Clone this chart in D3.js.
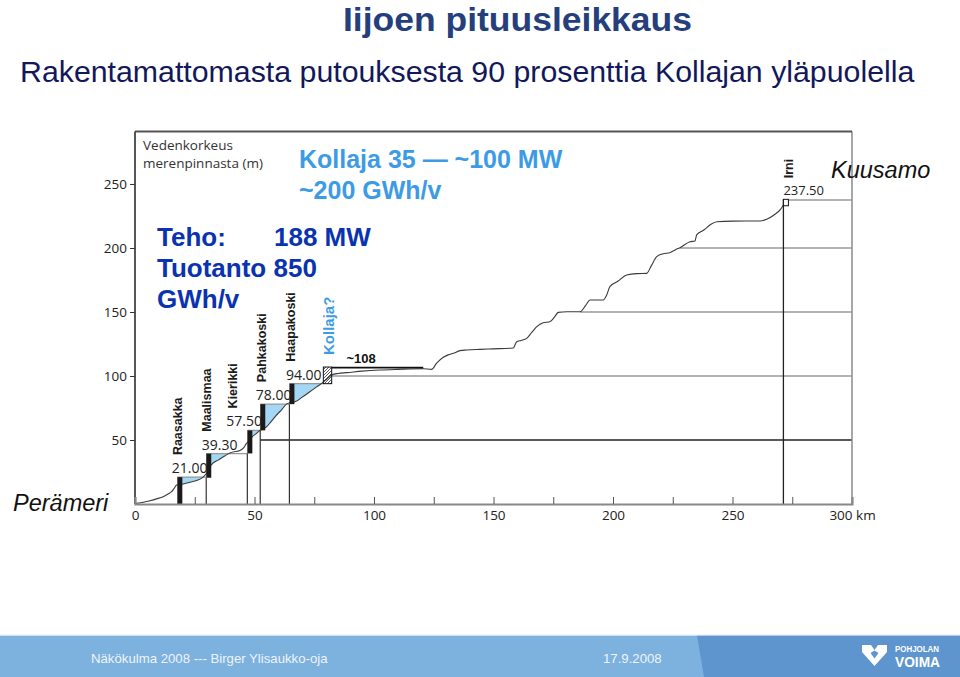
<!DOCTYPE html>
<html>
<head>
<meta charset="utf-8">
<script src="https://cdn.jsdelivr.net/npm/d3@7"></script>
<style>
  body { margin: 0; background: #fff; }
  svg { display: block; }
</style>
</head>
<body>
<div class="container"></div>
<script>
// DATA
// natural river profile: distance from the sea (km) and water level (m)
const profileKm = [0, 3, 6.3, 9, 11.8, 14, 15.3, 16.5, 17.4, 19.5, 23, 26, 27.9, 29, 30.3, 31.9, 35, 37.5, 39.7, 42, 43.9, 45.5, 46.5, 47.7,
  49.1, 50.7, 52.3, 53.6, 54.8, 57, 59, 61.5, 63.5, 64.9, 66.3, 67.2, 70, 73, 76, 78.5, 80.5, 82.3, 85, 88.6, 95, 102.5, 110, 120.6,
  124.1, 126.2, 129, 131, 133.2, 136, 138.8, 144.4, 150, 158.3, 159.7, 161.5, 163.9, 166, 168.1, 170.8, 173.6, 175.5, 177.1, 180.6,
  186.2, 188.5, 190.4, 195.9, 197.3, 198.7, 202, 205.7, 210, 214.1, 216, 218.3, 221, 223.8, 226, 228, 232.2, 234.3, 235, 238, 241,
  243.4, 250, 261.5, 264.3, 267.5, 269.9, 271.3];
const profileM = [0.5, 1.2, 2.6, 4, 5.7, 8, 9.6, 12.5, 14.8, 15.4, 17, 18.5, 20.2, 22, 25, 30.5, 34.5, 37.5, 39.8, 41, 41.8, 44, 47, 49.5,
  52.6, 55, 57.5, 59, 60, 64.5, 69, 74, 78.2, 79, 79.5, 80, 83.5, 87.5, 91.5, 94.8, 98, 100.8, 102, 102.6, 103.8, 104.7, 105.2, 105.7,
  105.2, 110, 114.6, 116.5, 117.7, 119.8, 120.3, 120.8, 121.2, 121.9, 126.8, 127.8, 129.4, 134, 138.5, 141.6, 142.4, 146, 149.7, 150.2,
  150.2, 155, 159.4, 159.4, 163, 169.8, 174, 178.9, 180, 180.2, 186, 193.2, 195.5, 196.3, 198.5, 200.2, 204.9, 205.5, 210.2, 214, 218.5,
  220.5, 221, 221.1, 222.4, 226, 229.7, 233.6];

// built power plants
const stationNames = ["Raasakka", "Maalismaa", "Kierikki", "Pahkakoski", "Haapakoski"];
const stationKm = [17.7, 29.8, 47.0, 52.4, 64.6];
const stationLevel = [21.0, 39.3, 57.5, 78.0, 94.0];
const stationBase = [0, 20.5, 39.5, 57.5, 78.0];
const reservoirEndKm = [29.8, 47.0, 52.4, 64.6, 78.8];
const stationLabels = ["21.00", "39.30", "57.50", "78.00", "94.00"];

// planned Kollaja and Irni
const kollajaKm = [78.8, 82.3];
const kollajaLevel = [94, 107];
const kollajaReservoirKm = [82.3, 120.6];
const kollajaReservoirLevel = 106.5;
const irniKm = [271.3, 273.4];
const irniLevel = [233, 238];

// reference lines
const gridLevels = [50, 100, 150, 200, 237.5];
const gridStartKm = [52.4, 82.3, 186.2, 228, 273.4];

// ticks
const xMinorTicks = [25, 50, 75, 100, 125, 150, 175, 200, 225, 250, 275];
const xTickLabels = [0, 50, 100, 150, 200, 250, 300];
const yTicks = [50, 100, 150, 200, 250];

const width = 960;
const height = 677;

const profile = profileKm.map((k, i) => ({ km: k, m: profileM[i] }));

const svg = d3.select(".container")
  .append("svg")
  .attr("width", width)
  .attr("height", height);

const xScale = d3.scaleLinear().domain([0, 300]).range([135, 852]);
const yScale = d3.scaleLinear().domain([0, 291]).range([504, 131.5]);

// hatch for Kollaja
svg.append("defs")
  .append("pattern")
  .attr("id", "hatch")
  .attr("patternUnits", "userSpaceOnUse")
  .attr("width", 3).attr("height", 3)
  .append("path")
  .attr("d", "M-1,1 l2,-2 M0,3 l3,-3 M2,4 l2,-2")
  .attr("stroke", "#111")
  .attr("stroke-width", 0.7);

// TITLES
svg.append("text")
  .attr("x", 343).attr("y", 31)
  .attr("textLength", 349).attr("lengthAdjust", "spacingAndGlyphs")
  .attr("font-family", "Liberation Sans, Arial, sans-serif")
  .attr("font-weight", "bold")
  .attr("font-size", 33)
  .attr("fill", "#243f7c")
  .text("Iijoen pituusleikkaus");

svg.append("text")
  .attr("x", 20).attr("y", 82)
  .attr("font-family", "Liberation Sans, Arial, sans-serif")
  .attr("font-size", 30.3)
  .attr("fill", "#12185a")
  .text("Rakentamattomasta putouksesta 90 prosenttia Kollajan yläpuolella");

const chart = svg.append("g");

// reservoirs behind the dams
const fillArea = (level) => d3.area()
  .x(d => xScale(d.km))
  .y0(d => yScale(Math.min(d.m, level)))
  .y1(yScale(level))
  .curve(d3.curveMonotoneX);

stationKm.forEach((k, i) => {
  const pts = profile.filter(p => p.km >= k && p.km <= reservoirEndKm[i]);
  chart.append("path")
    .datum(pts)
    .attr("d", fillArea(stationLevel[i]))
    .attr("fill", "#a3d7f3");
});

// horizontal reference lines
chart.selectAll(".grid")
  .data(gridLevels)
  .enter()
  .append("line")
  .attr("x1", (d, i) => xScale(gridStartKm[i]))
  .attr("x2", xScale(300))
  .attr("y1", d => yScale(d))
  .attr("y2", d => yScale(d))
  .attr("stroke", d => d === 50 ? "#222" : "#9a9a9a")
  .attr("stroke-width", 1.3);

// reservoir water levels
chart.selectAll(".level")
  .data(stationLevel)
  .enter()
  .append("line")
  .attr("x1", (d, i) => xScale(stationKm[i]))
  .attr("x2", (d, i) => xScale(reservoirEndKm[i]))
  .attr("y1", d => yScale(d))
  .attr("y2", d => yScale(d))
  .attr("stroke", "#999")
  .attr("stroke-width", 1.3);

// vertical station lines
chart.selectAll(".vline")
  .data(stationKm)
  .enter()
  .append("line")
  .attr("x1", d => xScale(d))
  .attr("x2", d => xScale(d))
  .attr("y1", (d, i) => yScale(stationBase[i]))
  .attr("y2", yScale(0))
  .attr("stroke", "#333")
  .attr("stroke-width", 1.2);

chart.append("line")
  .attr("x1", xScale(irniKm[0])).attr("x2", xScale(irniKm[0]))
  .attr("y1", yScale(irniLevel[1])).attr("y2", yScale(0))
  .attr("stroke", "#222")
  .attr("stroke-width", 1.3);

// natural profile
chart.append("path")
  .datum(profile)
  .attr("d", d3.line().x(d => xScale(d.km)).y(d => yScale(d.m)).curve(d3.curveMonotoneX))
  .attr("fill", "none")
  .attr("stroke", "#3a3a3a")
  .attr("stroke-width", 1.1);

// Kollaja reservoir level (~108)
chart.append("line")
  .attr("x1", xScale(kollajaReservoirKm[0]))
  .attr("x2", xScale(kollajaReservoirKm[1]))
  .attr("y1", yScale(kollajaReservoirLevel))
  .attr("y2", yScale(kollajaReservoirLevel))
  .attr("stroke", "#111")
  .attr("stroke-width", 1.8);

// dams
chart.selectAll(".dam")
  .data(stationKm)
  .enter()
  .append("rect")
  .attr("x", d => xScale(d))
  .attr("width", xScale(2.1) - xScale(0))
  .attr("y", (d, i) => yScale(stationLevel[i]))
  .attr("height", (d, i) => yScale(stationBase[i]) - yScale(stationLevel[i]))
  .attr("fill", "#1a1a1a");

chart.append("rect")
  .attr("x", xScale(kollajaKm[0]))
  .attr("width", xScale(kollajaKm[1]) - xScale(kollajaKm[0]))
  .attr("y", yScale(kollajaLevel[1]))
  .attr("height", yScale(kollajaLevel[0]) - yScale(kollajaLevel[1]))
  .attr("fill", "url(#hatch)")
  .attr("stroke", "#111")
  .attr("stroke-width", 1);

chart.append("rect")
  .attr("x", xScale(irniKm[0]))
  .attr("width", xScale(irniKm[1]) - xScale(irniKm[0]))
  .attr("y", yScale(irniLevel[1]))
  .attr("height", yScale(irniLevel[0]) - yScale(irniLevel[1]))
  .attr("fill", "#fff")
  .attr("stroke", "#111")
  .attr("stroke-width", 1);

// frame
chart.append("line")
  .attr("x1", xScale(300)).attr("x2", xScale(300))
  .attr("y1", yScale(291)).attr("y2", yScale(0))
  .attr("stroke", "#8a8a8a").attr("stroke-width", 1.5);
chart.append("line")
  .attr("x1", xScale(0)).attr("x2", xScale(300))
  .attr("y1", yScale(291)).attr("y2", yScale(291))
  .attr("stroke", "#555").attr("stroke-width", 1.8);
chart.append("line")
  .attr("x1", xScale(0)).attr("x2", xScale(0))
  .attr("y1", yScale(291)).attr("y2", yScale(0))
  .attr("stroke", "#444").attr("stroke-width", 1.8);

// AXES
const yAxis = svg.append("g")
  .attr("transform", `translate(${xScale(0)},0)`)
  .call(d3.axisLeft(yScale).tickValues(yTicks).tickSize(5).tickPadding(3));
yAxis.select(".domain").remove();
yAxis.selectAll("line").attr("stroke", "#333");
yAxis.selectAll("text")
  .attr("font-family", "Open Sans, sans-serif")
  .attr("font-size", 13.5)
  .attr("fill", "#222");

const xMinor = svg.append("g")
  .attr("transform", `translate(0,${yScale(0)})`)
  .call(d3.axisBottom(xScale).tickValues(xMinorTicks).tickSize(-7).tickFormat(""));
xMinor.select(".domain")
  .attr("stroke", "#888")
  .attr("stroke-width", 2.2);
xMinor.selectAll("line").attr("stroke", "#555");

const xLabels = svg.append("g")
  .attr("transform", `translate(0,${yScale(0)})`)
  .call(d3.axisBottom(xScale).tickValues(xTickLabels).tickSize(0).tickPadding(6)
    .tickFormat(d => d === 300 ? "300 km" : d));
xLabels.select(".domain").remove();
xLabels.selectAll("text")
  .attr("font-family", "Open Sans, sans-serif")
  .attr("font-size", 13.5)
  .attr("fill", "#222");

// axis title
const yTitle = svg.append("text")
  .attr("font-family", "Open Sans, sans-serif")
  .attr("font-size", 13.5)
  .attr("fill", "#333");
yTitle.append("tspan").attr("x", 143).attr("y", 150).text("Vedenkorkeus");
yTitle.append("tspan").attr("x", 143).attr("y", 167.5).text("merenpinnasta (m)");

// STATION LABELS
const nameDx = [0, 0, -14.5, 1, 1.5];
const valueDx = [-5.5, -4.5, -21, -4.5, -3.5];

chart.selectAll(".sname")
  .data(stationNames)
  .enter()
  .append("text")
  .attr("transform", (d, i) =>
    `translate(${xScale(stationKm[i]) + nameDx[i]},${yScale(stationLevel[i]) - 22}) rotate(-90)`)
  .attr("dy", "0.35em")
  .attr("font-family", "Liberation Sans, Arial, sans-serif")
  .attr("font-weight", "bold")
  .attr("font-size", 12.5)
  .attr("fill", "#1a1a1a")
  .text(d => d);

chart.selectAll(".svalue")
  .data(stationLabels)
  .enter()
  .append("text")
  .attr("x", (d, i) => xScale(stationKm[i]) + valueDx[i])
  .attr("y", (d, i) => yScale(stationLevel[i]) - 4)
  .attr("font-family", "Open Sans, sans-serif")
  .attr("font-size", 14)
  .attr("fill", "#222")
  .text(d => d);

chart.append("text")
  .attr("transform", `translate(${xScale(81)},${yScale(kollajaLevel[1]) - 12}) rotate(-90)`)
  .attr("dy", "0.35em")
  .attr("font-family", "Liberation Sans, Arial, sans-serif")
  .attr("font-weight", "bold")
  .attr("font-size", 15)
  .attr("fill", "#3d9be6")
  .text("Kollaja?");

chart.append("text")
  .attr("x", xScale(88.5))
  .attr("y", yScale(kollajaReservoirLevel) - 5)
  .attr("font-family", "Liberation Sans, Arial, sans-serif")
  .attr("font-weight", "bold")
  .attr("font-size", 13)
  .attr("fill", "#111")
  .text("~108");

chart.append("text")
  .attr("transform", `translate(${xScale(irniKm[0]) + 5},${yScale(irniLevel[1]) - 21}) rotate(-90)`)
  .attr("dy", "0.35em")
  .attr("font-family", "Liberation Sans, Arial, sans-serif")
  .attr("font-weight", "bold")
  .attr("font-size", 12.5)
  .attr("fill", "#1a1a1a")
  .text("Irni");

chart.append("text")
  .attr("x", xScale(irniKm[0]))
  .attr("y", yScale(irniLevel[1]) - 4)
  .attr("font-family", "Open Sans, sans-serif")
  .attr("font-size", 13)
  .attr("fill", "#222")
  .text("237.50");

// ANNOTATIONS
const kollajaNote = svg.append("text")
  .attr("font-family", "Liberation Sans, Arial, sans-serif")
  .attr("font-weight", "bold")
  .attr("font-size", 25)
  .attr("fill", "#3d9be6");
kollajaNote.append("tspan").attr("x", 299).attr("y", 168).text("Kollaja 35 — ~100 MW");
kollajaNote.append("tspan").attr("x", 299).attr("y", 199).text("~200 GWh/v");

const tehoNote = svg.append("text")
  .attr("font-family", "Liberation Sans, Arial, sans-serif")
  .attr("font-weight", "bold")
  .attr("font-size", 26)
  .attr("fill", "#0a33b0");
tehoNote.append("tspan").attr("x", 157).attr("y", 246).text("Teho:");
tehoNote.append("tspan").attr("x", 274).attr("y", 246).text("188 MW");
tehoNote.append("tspan").attr("x", 157).attr("y", 277).text("Tuotanto 850");
tehoNote.append("tspan").attr("x", 157).attr("y", 308).text("GWh/v");

svg.append("text")
  .attr("x", 831).attr("y", 178)
  .attr("font-family", "Liberation Sans, Arial, sans-serif")
  .attr("font-style", "italic")
  .attr("font-size", 23.5)
  .attr("fill", "#111")
  .text("Kuusamo");

svg.append("text")
  .attr("x", 13).attr("y", 511)
  .attr("font-family", "Liberation Sans, Arial, sans-serif")
  .attr("font-style", "italic")
  .attr("font-size", 23.5)
  .attr("fill", "#111")
  .text("Perämeri");

// FOOTER
const footer = svg.append("g");
footer.append("rect")
  .attr("x", 0).attr("y", 635.5)
  .attr("width", width).attr("height", height - 635.5)
  .attr("fill", "#7db1de");
footer.append("path")
  .attr("d", `M697,635.5 L${width},635.5 L${width},${height} L704,${height} Z`)
  .attr("fill", "#5e95cf");
footer.append("line")
  .attr("x1", 0).attr("x2", width)
  .attr("y1", 635).attr("y2", 635)
  .attr("stroke", "#dfe9f4").attr("stroke-width", 1);

footer.append("text")
  .attr("x", 91).attr("y", 663)
  .attr("font-family", "Liberation Sans, Arial, sans-serif")
  .attr("font-size", 13.2)
  .attr("fill", "#eef4fb")
  .text("Näkökulma 2008 --- Birger Ylisaukko-oja");
footer.append("text")
  .attr("x", 603).attr("y", 663)
  .attr("font-family", "Liberation Sans, Arial, sans-serif")
  .attr("font-size", 13.2)
  .attr("fill", "#eef4fb")
  .text("17.9.2008");

// logo
const logo = footer.append("g").attr("transform", "translate(862,645)");
logo.append("path")
  .attr("d", "M0,0 L9,0 L12.5,5 L16,0 L25,0 L25,7 L12.5,21 L0,7 Z M8.5,8 L12.5,13.5 L16.5,8 L12.5,5.5 Z")
  .attr("fill", "#fff")
  .attr("fill-rule", "evenodd");
logo.append("text")
  .attr("x", 33).attr("y", 7)
  .attr("textLength", 44).attr("lengthAdjust", "spacingAndGlyphs")
  .attr("font-family", "Liberation Sans, Arial, sans-serif")
  .attr("font-weight", "bold")
  .attr("font-size", 8.5)
  .attr("fill", "#fff")
  .text("POHJOLAN");
logo.append("text")
  .attr("x", 33).attr("y", 22)
  .attr("textLength", 45).attr("lengthAdjust", "spacingAndGlyphs")
  .attr("font-family", "Liberation Sans, Arial, sans-serif")
  .attr("font-weight", "bold")
  .attr("font-size", 14.5)
  .attr("fill", "#fff")
  .text("VOIMA");
</script>
</body>
</html>
